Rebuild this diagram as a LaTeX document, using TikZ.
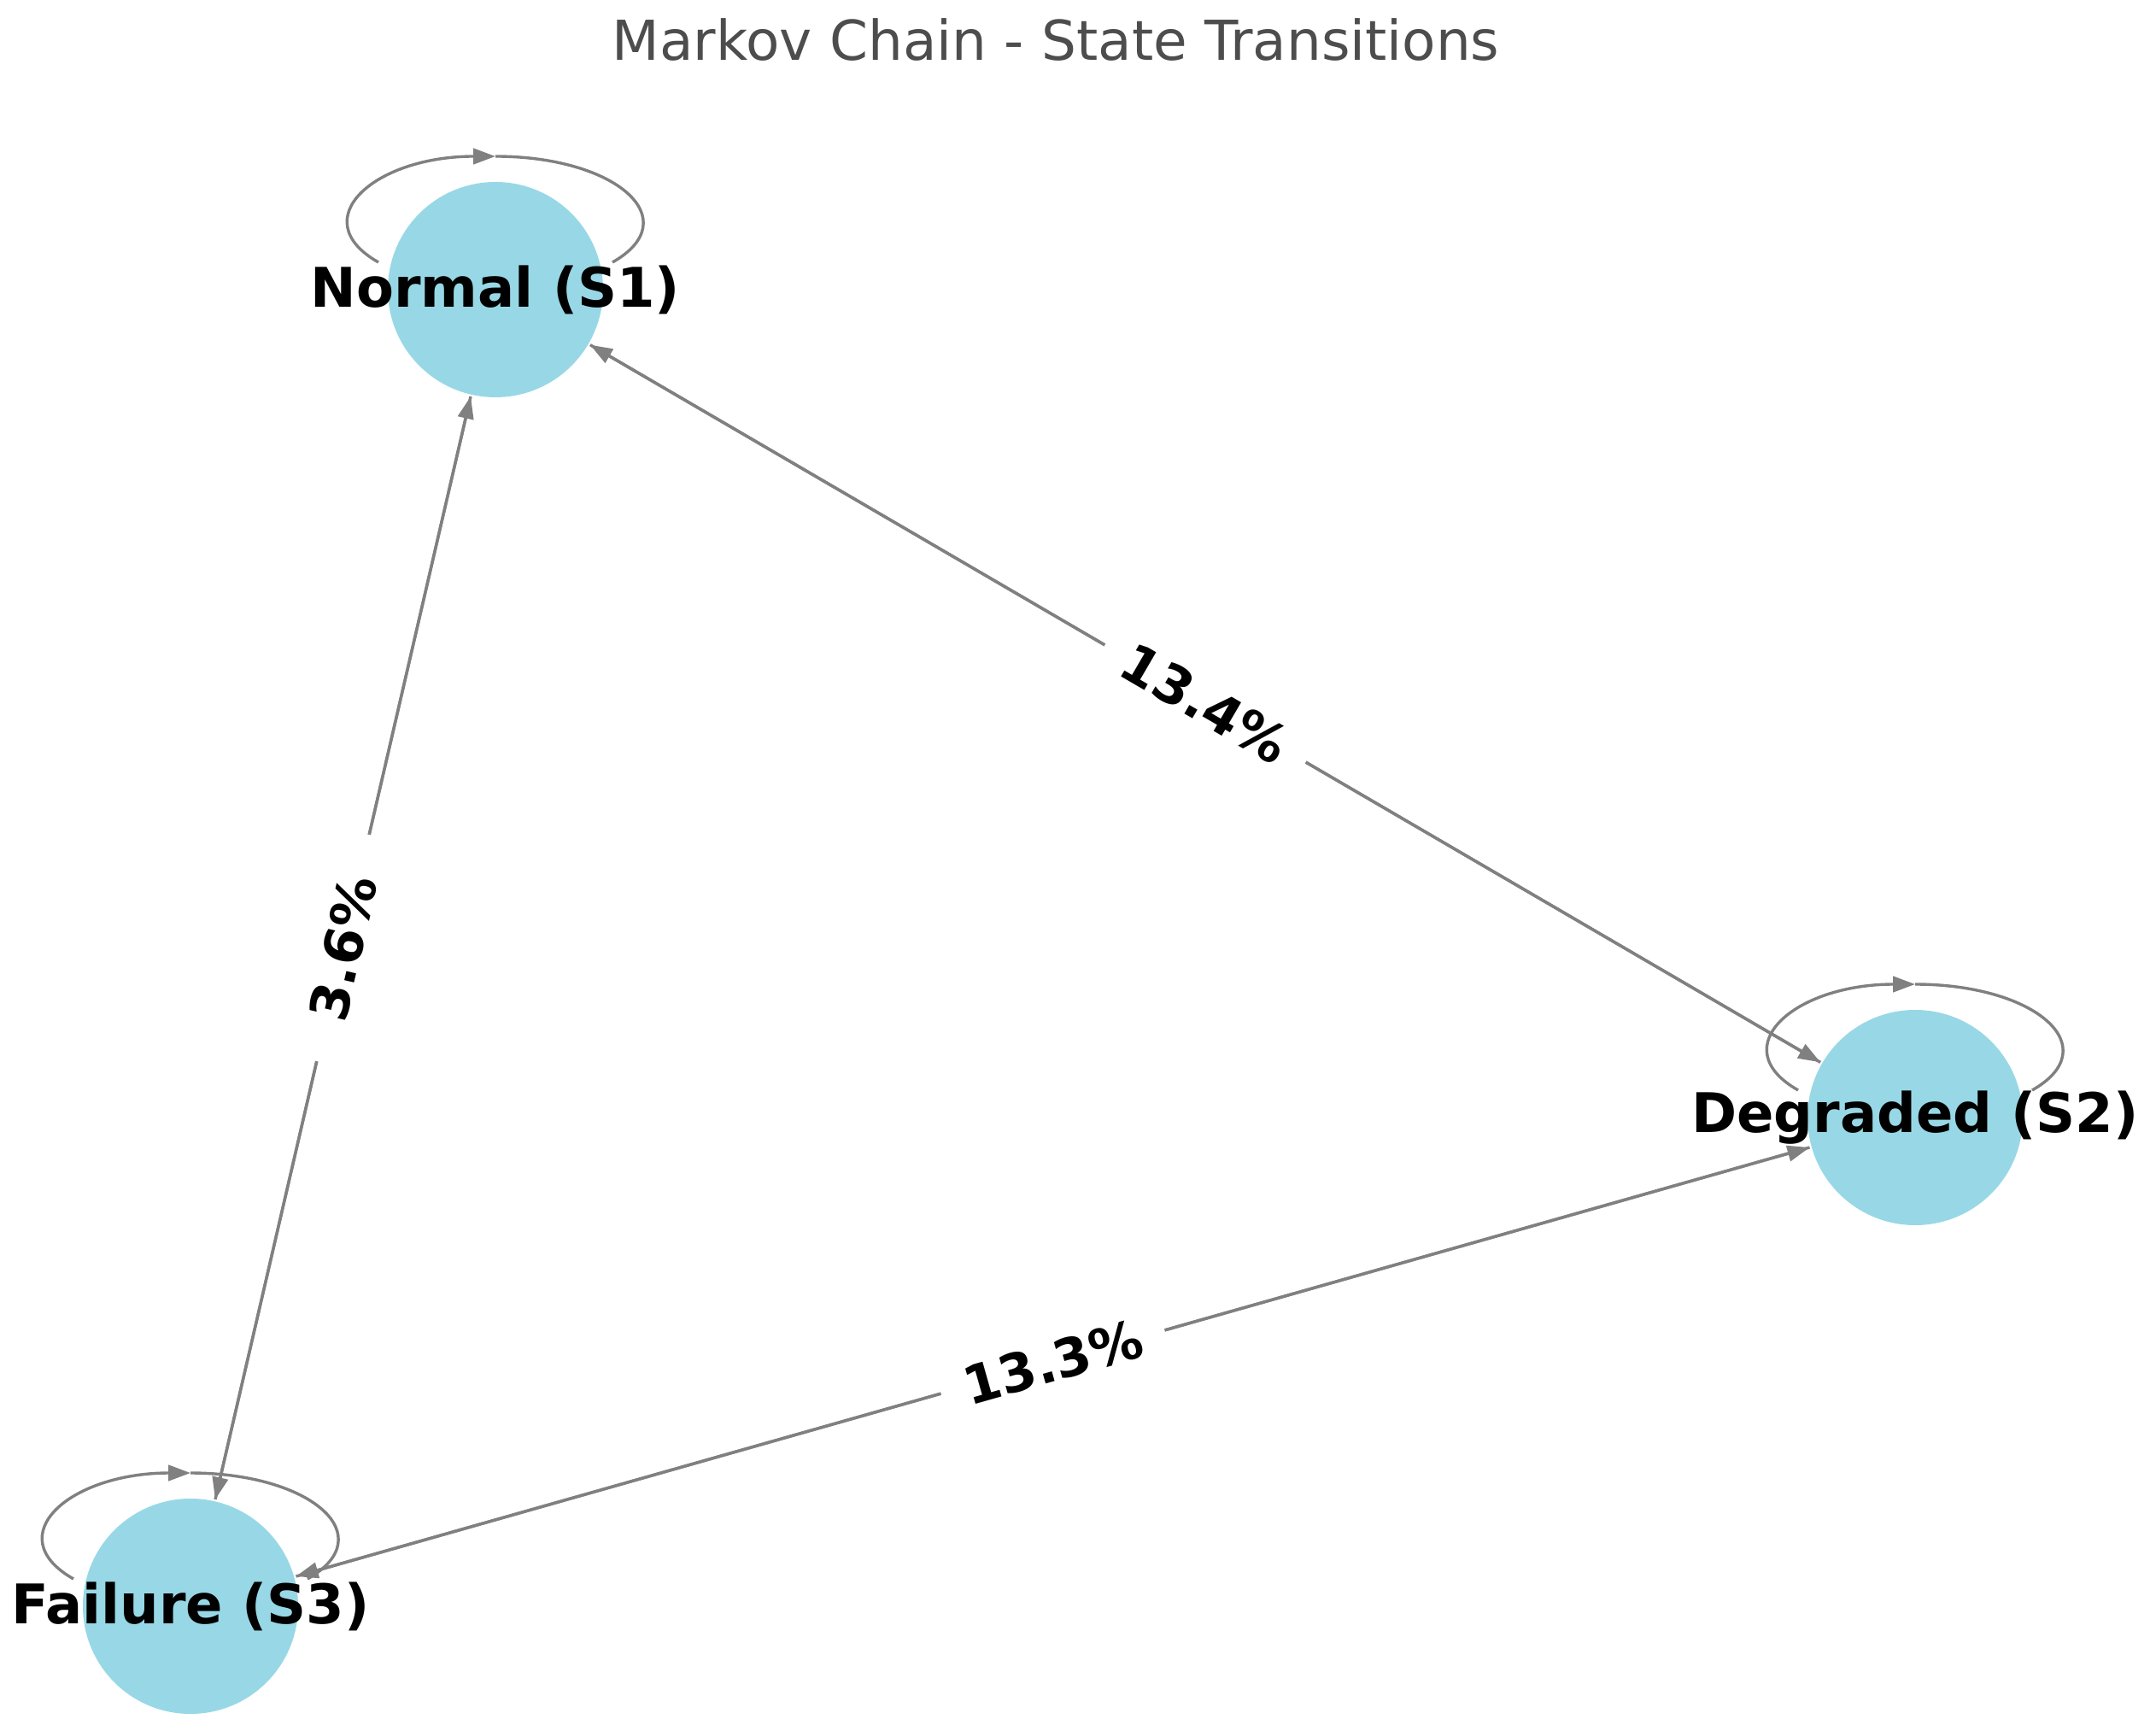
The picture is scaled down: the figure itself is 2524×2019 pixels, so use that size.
\documentclass[tikz,border=0pt]{standalone}
\usepackage{fontspec}
\setmainfont{DejaVu Sans}
\usetikzlibrary{arrows.meta,calc}
\definecolor{nodeblue}{RGB}{152,216,230}
\definecolor{edgegray}{RGB}{128,128,128}
\definecolor{titlegray}{RGB}{77,77,77}
\begin{document}
\begin{tikzpicture}[x=0.25pt,y=-0.25pt,
  state/.style={circle, fill=nodeblue, draw=none, minimum size=63pt, inner sep=0pt, outer sep=0.6pt},
  statetext/.style={font=\fontsize{16}{19}\selectfont\bfseries, text=black, inner sep=0pt},
  edge/.style={draw=edgegray, line width=0.85pt, -{Triangle[length=6.5pt,width=4.6pt]}},
  loopline/.style={draw=edgegray, line width=0.85pt},
  elabel/.style={fill=white, font=\fontsize{15.5}{18}\selectfont\bfseries, text=black, inner sep=0pt, minimum width=68pt, minimum height=14pt, sloped},
  titlestyle/.style={font=\fontsize{16.1}{19}\selectfont, text=titlegray, inner sep=0pt}
]
\useasboundingbox (0,0) rectangle (2524,2019);
\node[titlestyle, anchor=base] (title) at (1236,71) {Markov Chain - State Transitions};

\node[state] (s1) at (580,339) {};
\node[state] (s2) at (2242,1308) {};
\node[state] (s3) at (223,1880) {};

% self loops
\foreach \s in {s1,s2,s3}{
  \begin{scope}[shift={(\s.center)}]
    \coordinate (\s la) at (-137,-32);
    \coordinate (\s lt) at (0,-156);
    \coordinate (\s lb) at (137,-32);
    \draw[edge] (\s la) .. controls (-225,-82) and (-142,-156) .. (\s lt);
    \draw[loopline] (\s lt) .. controls (142,-156) and (225,-82) .. (\s lb);
  \end{scope}
}

% transitions
\draw[edge] (s1) -- (s2);
\draw[edge] (s2) -- (s1);
\draw[edge] (s1) -- (s3);
\draw[edge] (s3) -- (s1);
\draw[edge] (s2) -- (s3);
\draw[edge] (s3) -- (s2);

% edge labels
\path (s1) -- node[elabel] (l12) {13.4\%} (s2);
\path (s3) -- node[elabel] (l31) {3.6\%} (s1);
\path (s3) -- node[elabel] (l32) {13.3\%} (s2);

% state labels
\node[statetext] (t1) at (s1) {Normal (S1)};
\node[statetext] (t2) at (s2) {Degraded (S2)};
\node[statetext] (t3) at (s3) {Failure (S3)};
\end{tikzpicture}
\end{document}
